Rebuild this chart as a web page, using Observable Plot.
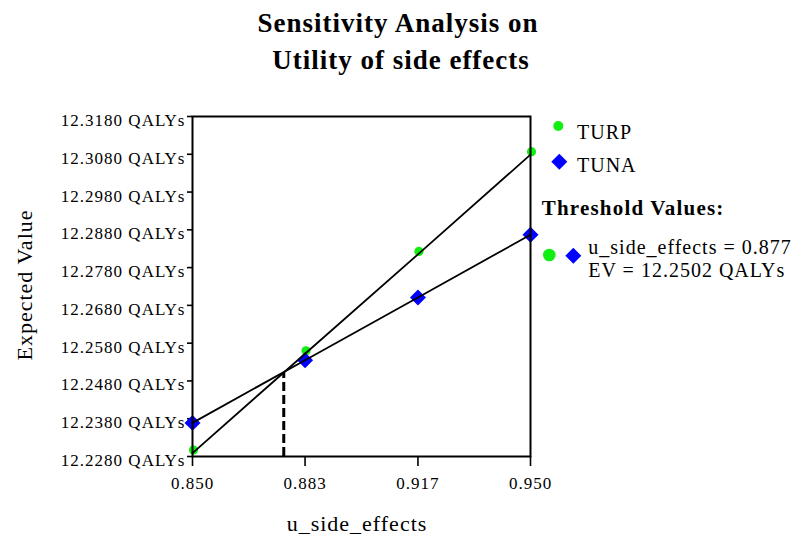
<!DOCTYPE html>
<html>
<head>
<meta charset="utf-8">
<script src="https://cdn.jsdelivr.net/npm/d3@7"></script>
<script src="https://cdn.jsdelivr.net/npm/@observablehq/plot@0.6"></script>
<style>
  html, body { margin: 0; padding: 0; background: white; }
  #wrap { position: relative; width: 796px; height: 536px; font-family: "Liberation Serif", "Times New Roman", serif; color: black; }
  #wrap svg text { letter-spacing: 1px; }
  .t { position: absolute; white-space: nowrap; line-height: 1; letter-spacing: 1px; }
  .title { left: 0; width: 796px; text-align: center; font-weight: bold; font-size: 27px; letter-spacing: 1px; }
  #legendSym { position: absolute; left: 0; top: 0; pointer-events: none; }
</style>
</head>
<body>
<div id="wrap"></div>
<script>
// ---- data ----
const titleLines = ["Sensitivity Analysis on", "Utility of side effects"];
const xLabel = "u_side_effects";
const yLabel = "Expected Value";
const xValues = [0.85, 0.8833, 0.9167, 0.95];
const xTickLabels = ["0.850", "0.883", "0.917", "0.950"];
const yTicks = [12.228, 12.238, 12.248, 12.258, 12.268, 12.278, 12.288, 12.298, 12.308, 12.318];
const turpValues = [12.2289, 12.2552, 12.2815, 12.3079];
const tunaValues = [12.2369, 12.2535, 12.2701, 12.2867];
const seriesNames = ["TURP", "TUNA"];
const thresholdX = 0.877;
const thresholdEV = 12.2502;
const thresholdTitle = "Threshold Values:";
const thresholdLines = ["u_side_effects = 0.877", "EV = 12.2502 QALYs"];

const green = "#11ee11";
const blue = "#0000ff";

const turp = xValues.map((x, i) => ({x, y: turpValues[i]}));
const tuna = xValues.map((x, i) => ({x, y: tunaValues[i]}));

const chart = Plot.plot({
  width: 796,
  height: 536,
  marginTop: 116,
  marginBottom: 80,
  marginLeft: 192,
  marginRight: 266,
  x: {domain: [0.85, 0.95]},
  y: {domain: [12.228, 12.318]},
  style: {fontFamily: "'Liberation Serif', serif", fontSize: "17px", color: "black", background: "transparent", overflow: "visible"},
  marks: [
    Plot.axisY({ticks: yTicks, tickSize: 5, text: null, strokeWidth: 1.6, label: null}),
    Plot.axisY({ticks: yTicks, tickSize: 0, tickPadding: 7, dy: 4, tickFormat: d => d.toFixed(4) + " QALYs", label: null}),
    Plot.axisX({ticks: xValues, tickSize: 10, tickPadding: 10, strokeWidth: 1.6,
      tickFormat: d => xTickLabels[xValues.indexOf(d)], label: null}),
    Plot.ruleX([{x: thresholdX, ev: thresholdEV}], {x: "x", y1: () => 12.228, y2: "ev", stroke: "black", strokeWidth: 3, strokeDasharray: "9,4"}),
    Plot.dot(turp, {x: "x", y: "y", r: 4.6, fill: green, dy: -3, dx: 1}),
    Plot.dot(tuna, {x: "x", y: "y", r: 7.2, symbol: "diamond2", fill: blue}),
    Plot.line(turp, {x: "x", y: "y", stroke: "black", strokeWidth: 1.8}),
    Plot.line(tuna, {x: "x", y: "y", stroke: "black", strokeWidth: 1.8}),
    Plot.frame({stroke: "black", strokeWidth: 2})
  ]
});

const wrap = document.getElementById("wrap");
wrap.appendChild(chart);

function addText(txt, cls, left, top, extra) {
  const d = document.createElement("div");
  d.className = "t " + (cls || "");
  d.textContent = txt;
  if (left != null) d.style.left = left + "px";
  d.style.top = top + "px";
  if (extra) Object.assign(d.style, extra);
  wrap.appendChild(d);
  return d;
}

// titles (baseline = top + 0.8375*fontSize)
addText(titleLines[0], "title", null, 33 - 0.8375 * 27);
addText(titleLines[1], "title", null, 69.5 - 0.8375 * 27, {left: "3px"});

// axis labels
addText(xLabel, "", null, 531.7 - 0.8375 * 22, {left: "257px", width: "200px", textAlign: "center", fontSize: "22px"});
addText(yLabel, "", null, 0, {left: "24.6px", top: "285px", width: "200px", textAlign: "center", fontSize: "22px",
  transform: "translate(-50%, -50%) rotate(-90deg)"});

// legend text
addText(seriesNames[0], "", 577, 138.3 - 0.8375 * 20, {fontSize: "20px"});
addText(seriesNames[1], "", 577, 171.7 - 0.8375 * 20, {fontSize: "20px"});
addText(thresholdTitle, "", 541.7, 216 - 0.8375 * 21, {fontSize: "21px", fontWeight: "bold", letterSpacing: "1.2px"});
addText(thresholdLines[0], "", 588.3, 253.3 - 0.8375 * 20, {fontSize: "20px"});
addText(thresholdLines[1], "", 588.3, 276.7 - 0.8375 * 20, {fontSize: "20px"});

// legend symbols
const sym = d3.select(wrap).append("svg").attr("id", "legendSym").attr("width", 796).attr("height", 536);
const diamondPath = d3.symbol(d3.symbolDiamond2, Math.PI * 7.2 * 7.2)();
sym.append("circle").attr("cx", 558.3).attr("cy", 126).attr("r", 5).attr("fill", green);
sym.append("path").attr("d", diamondPath).attr("transform", "translate(559.3,161.7)").attr("fill", blue);
sym.append("circle").attr("cx", 549.3).attr("cy", 255).attr("r", 6.3).attr("fill", green);
sym.append("path").attr("d", diamondPath).attr("transform", "translate(573.3,255.7)").attr("fill", blue);
</script>
</body>
</html>
